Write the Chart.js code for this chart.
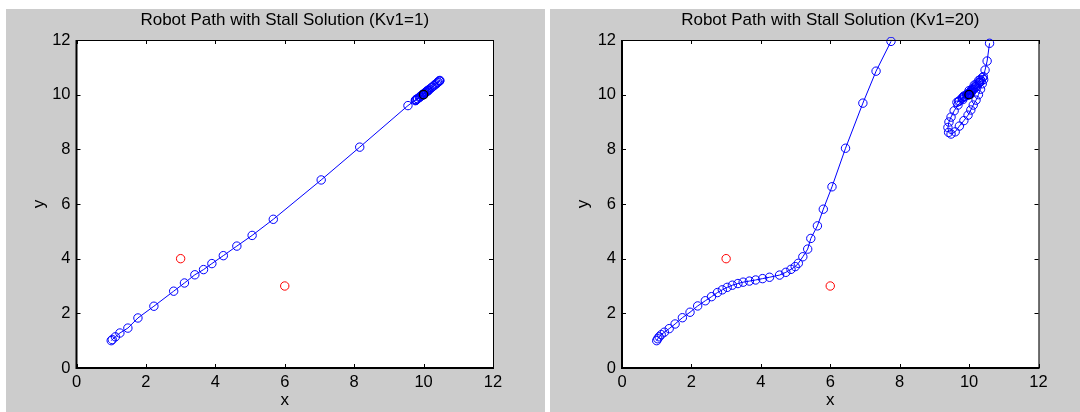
<!DOCTYPE html>
<html>
<head>
<meta charset="utf-8">
<script src="https://cdn.jsdelivr.net/npm/chart.js@4.4.1/dist/chart.umd.min.js"></script>
<style>
  html, body { margin: 0; padding: 0; background: #fff; overflow: hidden; }
  body { width: 1080px; height: 412px; position: relative; }
  canvas { position: absolute; top: 9px; background: #cccccc; }
  #left { left: 6px; }
  #right { left: 550px; }
</style>
</head>
<body>
<canvas id="left" width="539" height="403"></canvas>
<canvas id="right" width="539" height="403"></canvas>
<script>
// axis ticks shared by both plots
const tickValues = [0, 2, 4, 6, 8, 10, 12];

// obstacles and goal
const obstacles = [[3, 4], [6, 3]];
const goal = [[10, 10]];

// robot path, Kv1 = 1
const pathKv1 = [
  [1.00, 1.00], [1.03, 1.04], [1.12, 1.14], [1.25, 1.28], [1.48, 1.46], [1.77, 1.83],
  [2.23, 2.26], [2.80, 2.81], [3.11, 3.11], [3.41, 3.41], [3.66, 3.60], [3.90, 3.82],
  [4.23, 4.11], [4.62, 4.46], [5.06, 4.85], [5.67, 5.44], [7.05, 6.88], [8.16, 8.08],
  [9.55, 9.60], [9.78, 9.82], [9.90, 9.93], [9.98, 10.00], [10.05, 10.08], [10.13, 10.16],
  [10.22, 10.25], [10.30, 10.33], [10.37, 10.40], [10.42, 10.46], [10.46, 10.50], [10.47, 10.52],
  [10.45, 10.50], [10.40, 10.44], [10.33, 10.37], [10.25, 10.28], [10.17, 10.20], [10.09, 10.12],
  [10.02, 10.05], [9.95, 9.98], [9.88, 9.90], [9.82, 9.85], [9.78, 9.80], [9.76, 9.78],
  [9.78, 9.80], [9.83, 9.85], [9.90, 9.92], [9.97, 9.99], [10.03, 10.05], [10.08, 10.10],
  [10.12, 10.14], [10.14, 10.16], [10.12, 10.14], [10.08, 10.10], [10.03, 10.05], [9.99, 10.00],
  [9.97, 9.99], [9.98, 10.00], [10.00, 10.01], [10.01, 10.02]
];

// robot path, Kv1 = 20 (leaves the plot above y = 12, null marks the gap)
const pathKv20 = [
  [1.00, 1.00], [1.03, 1.07], [1.07, 1.14], [1.13, 1.22], [1.22, 1.31], [1.36, 1.44],
  [1.53, 1.61], [1.74, 1.84], [1.96, 2.04], [2.18, 2.27], [2.40, 2.46], [2.58, 2.61],
  [2.75, 2.76], [2.89, 2.86], [3.03, 2.95], [3.18, 3.03], [3.34, 3.09], [3.49, 3.14],
  [3.67, 3.18], [3.85, 3.22], [4.05, 3.27], [4.25, 3.32], [4.54, 3.40], [4.72, 3.50],
  [4.87, 3.61], [4.99, 3.71], [5.08, 3.83], [5.21, 4.07], [5.35, 4.35], [5.44, 4.74],
  [5.63, 5.20], [5.80, 5.81], [6.05, 6.63], [6.44, 8.04], [6.94, 9.69], [7.32, 10.86],
  [7.75, 11.95], null,
  [10.59, 11.88], [10.52, 11.23], [10.46, 10.90], [10.41, 10.66], [10.32, 10.55], [10.20, 10.38],
  [10.08, 10.20], [9.95, 10.00], [9.82, 9.82], [9.68, 9.62], [9.57, 9.41], [9.48, 9.18],
  [9.42, 9.00], [9.39, 8.80], [9.41, 8.62], [9.48, 8.56], [9.60, 8.64], [9.72, 8.85],
  [9.85, 9.05], [9.97, 9.25], [10.05, 9.44], [10.12, 9.62], [10.20, 9.80], [10.27, 10.00],
  [10.33, 10.20], [10.38, 10.40], [10.42, 10.55], [10.38, 10.62], [10.28, 10.52], [10.15, 10.35],
  [10.00, 10.15], [9.85, 9.95], [9.72, 9.78], [9.65, 9.72], [9.70, 9.75], [9.82, 9.88],
  [9.95, 10.02], [10.08, 10.15], [10.20, 10.30], [10.30, 10.45], [10.35, 10.50], [10.30, 10.45],
  [10.18, 10.30], [10.06, 10.15], [9.95, 10.02], [9.85, 9.92], [9.80, 9.88], [9.86, 9.93],
  [9.95, 10.02], [10.04, 10.10], [10.12, 10.20], [10.18, 10.25], [10.12, 10.18], [10.05, 10.10],
  [9.98, 10.02], [9.93, 9.98], [9.96, 10.00], [10.02, 10.05], [10.06, 10.08], [10.02, 10.03],
  [10.00, 10.00]
];

const toPoints = arr => arr.map(p => (p ? { x: p[0], y: p[1] } : { x: null, y: null }));

const fontFamily = "'Liberation Sans', Arial, Helvetica, sans-serif";
const tickFont = { family: fontFamily, size: 16.5 };
const labelFont = { family: fontFamily, size: 17 };
const markerRadius = 4.2;

// white plot area, then a box around it with MATLAB style inward ticks
const axesBox = {
  id: 'axesBox',
  beforeDatasetsDraw(chart) {
    const { ctx, chartArea: { left, right, top, bottom } } = chart;
    ctx.save();
    ctx.fillStyle = '#ffffff';
    ctx.fillRect(left, top, right - left, bottom - top);
    ctx.restore();
  },
  afterDatasetsDraw(chart) {
    const { ctx, chartArea: { left, right, top, bottom }, scales: { x, y } } = chart;
    ctx.save();
    ctx.strokeStyle = '#000';
    ctx.lineWidth = 1;
    ctx.beginPath();
    ctx.moveTo(left, top + 0.5);
    ctx.lineTo(right + 0.5, top + 0.5);
    ctx.lineTo(right + 0.5, bottom);
    ctx.stroke();
    ctx.lineWidth = 2;
    ctx.beginPath();
    ctx.moveTo(left, top);
    ctx.lineTo(left, bottom);
    ctx.lineTo(right + 1, bottom);
    ctx.stroke();
    ctx.lineWidth = 1;
    ctx.beginPath();
    tickValues.forEach(v => {
      const px = Math.round(x.getPixelForValue(v)) + 0.5;
      ctx.moveTo(px, bottom);
      ctx.lineTo(px, bottom - 4);
      ctx.moveTo(px, top);
      ctx.lineTo(px, top + 4);
      const py = Math.round(y.getPixelForValue(v)) + 0.5;
      ctx.moveTo(left, py);
      ctx.lineTo(left + 4, py);
      ctx.moveTo(right, py);
      ctx.lineTo(right - 4, py);
    });
    ctx.stroke();
    ctx.restore();
  }
};

let makeChart = (id, title, path, yWidth, padRight) => {
  return new Chart(document.getElementById(id), {
    type: 'scatter',
    data: {
      datasets: [
        {
          data: toPoints(goal),
          borderColor: '#000000',
          backgroundColor: 'transparent',
          pointRadius: markerRadius,
          pointBorderWidth: 1.3,
          order: 0,
        },
        {
          data: toPoints(obstacles),
          borderColor: '#ff0000',
          backgroundColor: 'transparent',
          pointRadius: markerRadius,
          pointBorderWidth: 1,
          order: 1,
        },
        {
          data: toPoints(path),
          showLine: true,
          spanGaps: false,
          borderColor: '#0000ff',
          borderWidth: 1,
          backgroundColor: 'transparent',
          pointRadius: markerRadius,
          pointBorderWidth: 1,
          pointBorderColor: '#0000ff',
          pointBackgroundColor: 'transparent',
          clip: { left: 5, top: 3, right: 5, bottom: 5 },
          order: 2,
        },
      ],
    },
    options: {
      responsive: false,
      animation: false,
      events: [],
      layout: { padding: { left: 0, right: padRight, top: 0, bottom: 0 } },
      plugins: {
        legend: { display: false },
        tooltip: { enabled: false },
        title: {
          display: true,
          text: title,
          color: '#000',
          fullSize: false,
          font: { family: fontFamily, size: 17, weight: 'normal' },
          padding: { top: 1.3, bottom: 9.3 },
        },
      },
      scales: {
        x: {
          type: 'linear',
          min: 0,
          max: 12,
          afterBuildTicks: s => { s.ticks = tickValues.map(v => ({ value: v })); },
          afterFit: s => { s.height = 44; },
          ticks: { color: '#000', font: tickFont, padding: 5, maxRotation: 0 },
          grid: { display: false, drawTicks: false },
          border: { display: false },
          title: { display: true, text: 'x', color: '#000', font: labelFont, padding: { top: 0, bottom: 1.3 } },
        },
        y: {
          type: 'linear',
          min: 0,
          max: 12,
          afterBuildTicks: s => { s.ticks = tickValues.map(v => ({ value: v })); },
          afterFit: s => { s.width = yWidth; },
          ticks: { color: '#000', font: tickFont, padding: 6 },
          grid: { display: false, drawTicks: false },
          border: { display: false },
          title: { display: true, text: 'y', color: '#000', font: labelFont, padding: { top: 22.8, bottom: 0 } },
        },
      },
    },
    plugins: [axesBox],
  });
};

makeChart('left', 'Robot Path with Stall Solution (Kv1=1)', pathKv1, 70.5, 52);
makeChart('right', 'Robot Path with Stall Solution (Kv1=20)', pathKv20, 72, 50.5);
</script>
</body>
</html>
